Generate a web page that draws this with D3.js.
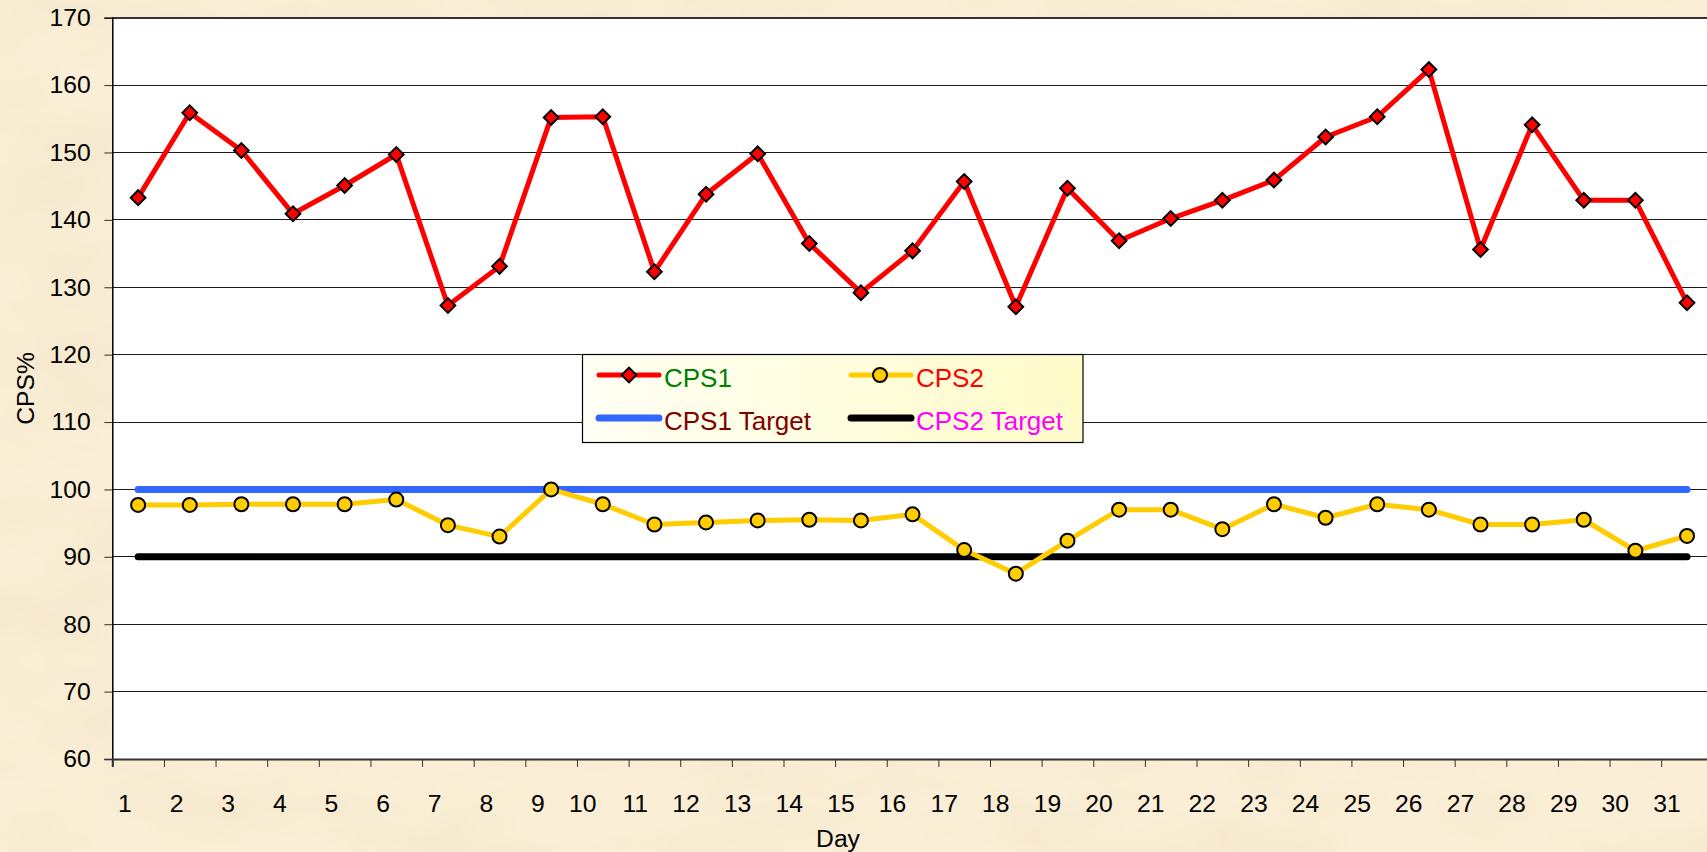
<!DOCTYPE html>
<html>
<head>
<meta charset="utf-8">
<script src="https://cdn.jsdelivr.net/npm/d3@7"></script>
<style>
html, body { margin: 0; padding: 0; overflow: hidden; background: #F7E8C9; }
svg { display: block; }
text { font-family: Arial, "Liberation Sans", sans-serif; }
</style>
</head>
<body>
<svg id="chart" width="1707" height="852"></svg>
<script>
// ---- Data ----
const days = [1,2,3,4,5,6,7,8,9,10,11,12,13,14,15,16,17,18,19,20,21,22,23,24,25,26,27,28,29,30,31];
const cps1 = [143.3,155.9,150.3,140.9,145.1,149.7,127.3,133.1,155.2,155.3,132.3,143.8,149.8,136.5,129.2,
              135.4,145.7,127.1,144.7,136.9,140.2,142.9,145.9,152.3,155.3,162.3,135.6,154.1,142.9,142.9,127.7];
const cps2 = [97.7,97.7,97.8,97.8,97.8,98.5,94.7,93.0,100.0,97.8,94.8,95.1,95.4,95.5,95.4,
              96.3,91.0,87.5,92.4,97.0,97.0,94.1,97.8,95.8,97.8,97.0,94.8,94.8,95.5,90.9,93.1];
const cps1Target = 100;
const cps2Target = 90;
const yTicks = [60,70,80,90,100,110,120,130,140,150,160,170];
const seriesNames = ["CPS1", "CPS2", "CPS1 Target", "CPS2 Target"];
const legendTextColors = ["#008000", "#FF0000", "#800000", "#FF00FF"];
const xTitle = "Day";
const yTitle = "CPS%";

// ---- Layout ----
const svg = d3.select("#chart");
const W = 1707, H = 852;
const pLeft = 112.3, pTop = 17.7, pBottom = 759, step = 51.63;
const pRight = pLeft + step * days.length;
const fontSize = 24.7;
const legendFont = 26;

const x = d3.scaleBand().domain(days).range([pLeft, pRight]).padding(0);
const xTick = d3.scaleLinear().domain([0, days.length]).range([pLeft, pRight]);
const y = d3.scaleLinear().domain([60, 170]).range([pBottom, pTop]);
const cx = d => x(d) + x.bandwidth() / 2;

// background (parchment)
const defs = svg.append("defs");
const paper = defs.append("filter").attr("id", "paper").attr("x", 0).attr("y", 0)
  .attr("width", "100%").attr("height", "100%");
paper.append("feTurbulence").attr("type", "fractalNoise").attr("baseFrequency", "0.006 0.012")
  .attr("numOctaves", 4).attr("seed", 7).attr("result", "n");
paper.append("feColorMatrix").attr("type", "matrix")
  .attr("values", "0 0 0 0 0.90  0 0 0 0 0.80  0 0 0 0 0.60  1.8 0 0 0 -0.68");
svg.append("rect").attr("width", W).attr("height", H).attr("fill", "#FAEED6");
svg.append("rect").attr("width", W).attr("height", H).attr("filter", "url(#paper)");

// plot area
svg.append("rect").attr("x", pLeft).attr("y", pTop)
  .attr("width", pRight - pLeft).attr("height", pBottom - pTop).attr("fill", "#FFFFFF");

// gridlines
svg.append("g").selectAll("line").data(yTicks.filter(v => v > 60)).join("line")
  .attr("x1", pLeft).attr("x2", pRight)
  .attr("y1", d => y(d)).attr("y2", d => y(d))
  .attr("stroke", d => d === 170 ? "#333" : "#1a1a1a")
  .attr("stroke-width", d => d === 170 ? 2 : 1)
  .attr("shape-rendering", "crispEdges");

// y axis
const yAxis = svg.append("g").attr("transform", `translate(${pLeft},0)`)
  .call(d3.axisLeft(y).tickValues(yTicks).tickSize(8).tickPadding(13.5).tickFormat(d3.format("d")));
yAxis.select(".domain").attr("stroke", "#000").attr("stroke-width", 1.5);
yAxis.selectAll(".tick line").attr("stroke", "#333").attr("stroke-width", 1);
yAxis.selectAll("text").attr("font-size", fontSize).attr("fill", "#000")
  .attr("font-family", "Arial, 'Liberation Sans', sans-serif");

// x axis tick marks at category boundaries
const xTicksG = svg.append("g").attr("transform", `translate(0,${pBottom})`)
  .call(d3.axisBottom(xTick).tickValues(d3.range(0, days.length + 1)).tickSize(8).tickFormat(""));
xTicksG.select(".domain").attr("stroke", "#333").attr("stroke-width", 2);
xTicksG.selectAll(".tick line").attr("stroke", "#333").attr("stroke-width", 1);

// x axis labels
const xLab = svg.append("g").attr("transform", `translate(0,${pBottom})`)
  .call(d3.axisBottom(x).tickSize(0).tickFormat(d => String(d)));
xLab.select(".domain").remove();
xLab.selectAll("text").attr("font-size", fontSize).attr("fill", "#000")
  .attr("font-family", "Arial, 'Liberation Sans', sans-serif")
  .attr("text-anchor", "end").attr("dy", null).attr("y", 52.5)
  .attr("x", 19.5 - x.bandwidth() / 2);

// axis titles
svg.append("text").attr("x", 838).attr("y", 846.5).attr("text-anchor", "middle")
  .attr("font-size", fontSize).attr("fill", "#000").text(xTitle);
svg.append("text").attr("transform", `translate(33.5,${(pTop + pBottom) / 2}) rotate(-90)`)
  .attr("text-anchor", "middle").attr("font-size", fontSize).attr("fill", "#000").text(yTitle);

// target lines
const firstX = cx(days[0]), lastX = cx(days[days.length - 1]);
svg.append("line").attr("x1", firstX).attr("x2", lastX)
  .attr("y1", y(cps1Target)).attr("y2", y(cps1Target))
  .attr("stroke", "#3366FF").attr("stroke-width", 7).attr("stroke-linecap", "round");
svg.append("line").attr("x1", firstX).attr("x2", lastX)
  .attr("y1", y(cps2Target)).attr("y2", y(cps2Target))
  .attr("stroke", "#000000").attr("stroke-width", 7).attr("stroke-linecap", "round");

// series lines
const line = d3.line().x((d, i) => cx(days[i])).y(d => y(d));
svg.append("path").datum(cps2).attr("d", line).attr("fill", "none")
  .attr("stroke", "#FFCC00").attr("stroke-width", 5).attr("stroke-linejoin", "round");
svg.append("path").datum(cps1).attr("d", line).attr("fill", "none")
  .attr("stroke", "#FF0000").attr("stroke-width", 5).attr("stroke-linejoin", "round");

// markers
const diamond = d3.symbol().type(d3.symbolSquare).size(108);
svg.append("g").selectAll("circle").data(cps2).join("circle")
  .attr("cx", (d, i) => cx(days[i])).attr("cy", d => y(d)).attr("r", 7)
  .attr("fill", "#FFCC00").attr("stroke", "#000").attr("stroke-width", 2);
svg.append("g").selectAll("path").data(cps1).join("path")
  .attr("d", diamond)
  .attr("transform", (d, i) => `translate(${cx(days[i])},${y(d)}) rotate(45)`)
  .attr("fill", "#FF0000").attr("stroke", "#000").attr("stroke-width", 2);

// legend
const grad = defs.append("linearGradient").attr("id", "lgGrad").attr("x1", "0").attr("x2", "1").attr("y1", "0").attr("y2", "0");
grad.append("stop").attr("offset", "0%").attr("stop-color", "#FFFFF4");
grad.append("stop").attr("offset", "100%").attr("stop-color", "#FFFBC9");

const lg = svg.append("g");
lg.append("rect").attr("x", 582.5).attr("y", 354.5).attr("width", 500.5).attr("height", 88)
  .attr("fill", "url(#lgGrad)").attr("stroke", "#000").attr("stroke-width", 1.2);

const legendItems = [
  {name: seriesNames[0], color: "#FF0000", marker: "diamond", w: 5, lx: 599, ly: 375, tc: legendTextColors[0]},
  {name: seriesNames[1], color: "#FFCC00", marker: "circle", w: 5, lx: 851, ly: 375, tc: legendTextColors[1]},
  {name: seriesNames[2], color: "#3366FF", marker: null, w: 7, lx: 599, ly: 418, tc: legendTextColors[2]},
  {name: seriesNames[3], color: "#000000", marker: null, w: 7, lx: 851, ly: 418, tc: legendTextColors[3]}
];
legendItems.forEach(it => {
  lg.append("line").attr("x1", it.lx).attr("x2", it.lx + 60).attr("y1", it.ly).attr("y2", it.ly)
    .attr("stroke", it.color).attr("stroke-width", it.w).attr("stroke-linecap", "round");
  if (it.marker === "diamond") {
    lg.append("path").attr("d", diamond)
      .attr("transform", `translate(${it.lx + 30},${it.ly}) rotate(45)`)
      .attr("fill", "#FF0000").attr("stroke", "#000").attr("stroke-width", 2);
  } else if (it.marker === "circle") {
    lg.append("circle").attr("cx", it.lx + 29).attr("cy", it.ly).attr("r", 7)
      .attr("fill", "#FFCC00").attr("stroke", "#000").attr("stroke-width", 2);
  }
  lg.append("text").attr("x", it.lx + 65).attr("y", it.ly + 11.5).attr("font-size", legendFont)
    .attr("fill", it.tc).text(it.name);
});
</script>
</body>
</html>
